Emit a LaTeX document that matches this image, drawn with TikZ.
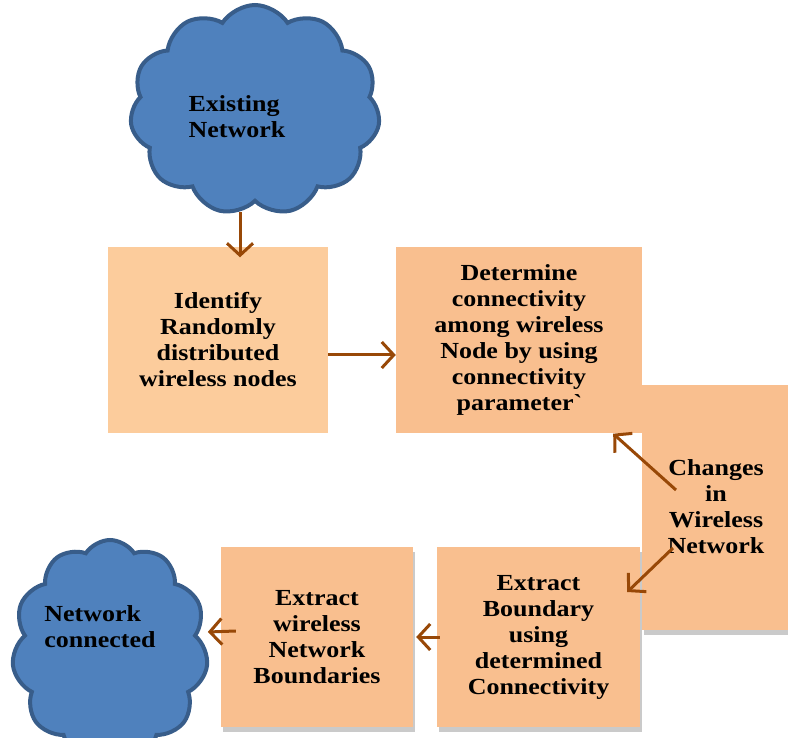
\documentclass[tikz,border=0pt]{standalone}
\usepackage{fontspec}
\setmainfont[FakeStretch=1.13]{Liberation Serif}
\usetikzlibrary{positioning,shapes.symbols,shadows,arrows.meta,calc}

\definecolor{cloudfill}{RGB}{79,129,189}
\definecolor{cloudedge}{RGB}{56,93,138}
\definecolor{boxlight}{RGB}{252,204,156}
\definecolor{boxfill}{RGB}{249,191,143}
\definecolor{arrowbrown}{RGB}{152,72,7}

\tikzset{
  netcloud/.style={cloud, cloud puffs=11, cloud puff arc=115, cloud ignores aspect,
    draw=cloudedge, line width=4pt, fill=cloudfill, inner sep=0pt},
  stepbox/.style={rectangle, fill=boxfill, align=center, inner sep=0pt,
    font=\fontsize{23}{26}\selectfont\bfseries},
  shadowbox/.style={stepbox, drop shadow={shadow xshift=2pt, shadow yshift=-5pt, opacity=0.35, fill=black!60}},
  cloudtext/.style={align=left, inner sep=0pt, font=\fontsize{23}{26}\selectfont\bfseries},
  flow/.style={draw=arrowbrown, line width=3pt, -{Straight Barb[length=12pt,width=26pt]}}
}

\begin{document}
\begin{tikzpicture}[x=1pt,y=-1pt]
        \useasboundingbox (0,0) rectangle (788,738);
        % clouds
        \node[netcloud, minimum width=250pt, minimum height=210pt] (cl1) at (255,110) {};
        \node[cloudtext] (cl1txt) at (237,117) {Existing\\Network};
        \node[netcloud, minimum width=196pt, minimum height=220pt] (cl2) at (110,650) {};
        \node[cloudtext] (cl2txt) at (100,627) {Network\\connected};

        % boxes
        \node[stepbox, fill=boxlight, minimum width=220pt, minimum height=185pt] (idf) at (218,340) {Identify\\Randomly\\distributed\\wireless nodes};
        \node[stepbox, minimum width=246pt, minimum height=185pt] (det) at (519,340) {Determine\\connectivity\\among wireless\\Node by using\\connectivity\\parameter\textasciigrave};
        \node[shadowbox, minimum width=148pt, minimum height=245pt] (chg) at (716,507) {Changes\\in\\Wireless\\Network};
        \node[shadowbox, minimum width=203pt, minimum height=180pt] (bnd) at (538.5,637) {Extract\\Boundary\\using\\determined\\Connectivity};
        \node[shadowbox, minimum width=192pt, minimum height=180pt] (ext) at (317,637) {Extract\\wireless\\Network\\Boundaries};

        % connectors
        \coordinate (c1) at (240,212);
        \coordinate (chgup) at (676,490);
        \coordinate (chgdn) at (673,548);
        \draw[flow] (c1) -- ($(c1 |- idf.north)+(0,10)$);
        \draw[flow] ($(idf.east)+(0,15)$) -- ($(det.west)+(0,15)$);
        \draw[flow] (chgup) -- ($(det.south east)+(-29,1)$);
        \draw[flow] (chgdn) -- ($(bnd.east)+(-13,-45)$);
        \draw[flow] ($(bnd.west)+(3,0)$) -- ($(ext.east)+(3,0)$);
        \draw[flow] ($(ext.west)+(15,-6)$) -- ($(ext.west)+(-13,-5)$);
\end{tikzpicture}
\end{document}
